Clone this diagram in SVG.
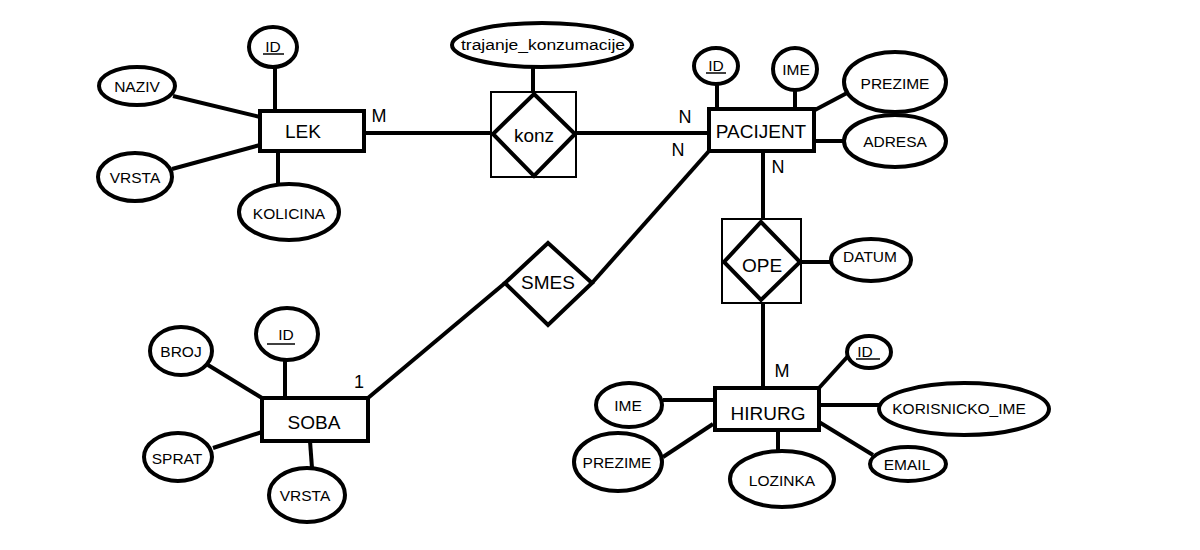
<svg xmlns="http://www.w3.org/2000/svg" width="1200" height="550" viewBox="0 0 1200 550">
  <style>
    .ent { fill: #fff; stroke: #000; stroke-width: 4; }
    .attr { fill: #fff; stroke: #000; stroke-width: 4; }
    .rel { fill: #fff; stroke: #000; stroke-width: 4; stroke-linejoin: miter; }
    .box { fill: #fff; stroke: #000; stroke-width: 2; }
    .conn line { stroke: #000; stroke-width: 4; }
    .ul { stroke: #000; stroke-width: 1.5; }
    text { font-family: "Liberation Sans", Arial, sans-serif; fill: #000; text-anchor: middle; dominant-baseline: central; }
    .t-ent { font-size: 19px; }
    .t-attr { font-size: 15.5px; }
    .t-card { font-size: 18px; }
  </style>
  <rect width="1200" height="550" fill="#fff"/>

  <!-- connectors -->
  <g id="connectors" class="conn">
    <!-- LEK attributes -->
    <line x1="275" y1="67" x2="275" y2="111"/>
    <line x1="173" y1="96" x2="260" y2="117"/>
    <line x1="172" y1="169" x2="260" y2="145"/>
    <line x1="278" y1="151" x2="278" y2="185"/>
    <!-- LEK - konz - PACIJENT -->
    <line x1="364" y1="133" x2="493" y2="133"/>
    <line x1="575" y1="133" x2="709" y2="133"/>
    <line x1="533" y1="67" x2="533" y2="94"/>
    <!-- PACIJENT attributes -->
    <line x1="717" y1="83" x2="717" y2="109"/>
    <line x1="795" y1="90" x2="795" y2="109"/>
    <line x1="813" y1="111" x2="847" y2="93"/>
    <line x1="814" y1="141" x2="844" y2="141"/>
    <!-- PACIJENT - SMES - SOBA -->
    <line x1="709" y1="151" x2="592" y2="283"/>
    <line x1="505" y1="283" x2="368" y2="398"/>
    <!-- SOBA attributes -->
    <line x1="285" y1="360" x2="285" y2="398"/>
    <line x1="208" y1="365" x2="262" y2="398"/>
    <line x1="213" y1="448" x2="262" y2="432"/>
    <line x1="310" y1="441" x2="312" y2="468"/>
    <!-- PACIJENT - OPE - HIRURG -->
    <line x1="763" y1="151" x2="763" y2="222"/>
    <line x1="763" y1="300" x2="763" y2="388"/>
    <line x1="800" y1="262" x2="831" y2="262"/>
    <!-- HIRURG attributes -->
    <line x1="819" y1="388" x2="849" y2="355"/>
    <line x1="663" y1="400" x2="713" y2="400"/>
    <line x1="819" y1="405" x2="879" y2="405"/>
    <line x1="663" y1="457" x2="713" y2="424"/>
    <line x1="778" y1="430" x2="778" y2="451"/>
    <line x1="819" y1="422" x2="873" y2="455"/>
  </g>

  <!-- LEK -->
  <g id="lek">
    <rect class="ent" x="260" y="111" width="104" height="40"/>
    <text class="t-ent" x="303" y="131">LEK</text>
  </g>
  <g id="lek-id">
    <ellipse class="attr" cx="273" cy="47" rx="24" ry="20"/>
    <text class="t-attr" x="273" y="46">ID</text>
    <line class="ul" x1="263" y1="54" x2="284" y2="54"/>
  </g>
  <g id="lek-naziv">
    <ellipse class="attr" cx="137" cy="86" rx="38" ry="19"/>
    <text class="t-attr" x="137" y="86">NAZIV</text>
  </g>
  <g id="lek-vrsta">
    <ellipse class="attr" cx="135" cy="177" rx="37" ry="24"/>
    <text class="t-attr" x="135" y="177">VRSTA</text>
  </g>
  <g id="lek-kolicina">
    <ellipse class="attr" cx="289" cy="212" rx="50" ry="28"/>
    <text class="t-attr" x="289" y="213">KOLICINA</text>
  </g>

  <!-- konz -->
  <g id="konz">
    <rect class="box" x="491" y="92" width="85" height="85"/>
    <polygon class="rel" points="534,94 575,134 534,176 493,134"/>
    <text class="t-ent" x="534" y="135">konz</text>
  </g>
  <g id="konz-trajanje">
    <ellipse class="attr" cx="542" cy="45" rx="90" ry="22"/>
    <text class="t-attr" x="543" y="44" textLength="164" lengthAdjust="spacingAndGlyphs">trajanje_konzumacije</text>
  </g>

  <!-- PACIJENT -->
  <g id="pacijent">
    <rect class="ent" x="709" y="109" width="105" height="42"/>
    <text class="t-ent" x="761" y="131">PACIJENT</text>
  </g>
  <g id="pacijent-id">
    <ellipse class="attr" cx="716" cy="66" rx="22" ry="18"/>
    <text class="t-attr" x="716" y="65">ID</text>
    <line class="ul" x1="706" y1="73" x2="726" y2="73"/>
  </g>
  <g id="pacijent-ime">
    <ellipse class="attr" cx="795" cy="69" rx="22" ry="21"/>
    <text class="t-attr" x="796" y="69">IME</text>
  </g>
  <g id="pacijent-prezime">
    <ellipse class="attr" cx="895" cy="82" rx="51" ry="30"/>
    <text class="t-attr" x="895" y="83">PREZIME</text>
  </g>
  <g id="pacijent-adresa">
    <ellipse class="attr" cx="895" cy="141" rx="51" ry="26"/>
    <text class="t-attr" x="895" y="141">ADRESA</text>
  </g>

  <!-- SMES -->
  <g id="smes">
    <polygon class="rel" points="548,243 592,283 548,325 505,283"/>
    <text class="t-ent" x="548" y="282">SMES</text>
  </g>

  <!-- SOBA -->
  <g id="soba">
    <rect class="ent" x="262" y="398" width="106" height="43"/>
    <text class="t-ent" x="314" y="422">SOBA</text>
  </g>
  <g id="soba-id">
    <ellipse class="attr" cx="287" cy="334" rx="31" ry="26"/>
    <text class="t-attr" x="286" y="334">ID</text>
    <line class="ul" x1="267" y1="344" x2="295" y2="344"/>
  </g>
  <g id="soba-broj">
    <ellipse class="attr" cx="181" cy="351" rx="31" ry="24"/>
    <text class="t-attr" x="181" y="351">BROJ</text>
  </g>
  <g id="soba-sprat">
    <ellipse class="attr" cx="178" cy="457" rx="34" ry="24"/>
    <text class="t-attr" x="177" y="458">SPRAT</text>
  </g>
  <g id="soba-vrsta">
    <ellipse class="attr" cx="307" cy="495" rx="38" ry="27"/>
    <text class="t-attr" x="305" y="495">VRSTA</text>
  </g>

  <!-- OPE -->
  <g id="ope">
    <rect class="box" x="722" y="219" width="79" height="84"/>
    <polygon class="rel" points="761,222 800,262 761,300 724,262"/>
    <text class="t-ent" x="762" y="265">OPE</text>
  </g>
  <g id="ope-datum">
    <ellipse class="attr" cx="871" cy="260" rx="40" ry="21"/>
    <text class="t-attr" x="870" y="256">DATUM</text>
  </g>

  <!-- HIRURG -->
  <g id="hirurg">
    <rect class="ent" x="715" y="388" width="104" height="42"/>
    <text class="t-ent" x="768" y="413">HIRURG</text>
  </g>
  <g id="hirurg-id">
    <ellipse class="attr" cx="869" cy="352" rx="22" ry="16"/>
    <text class="t-attr" x="865" y="351">ID</text>
    <line class="ul" x1="856" y1="359" x2="880" y2="359"/>
  </g>
  <g id="hirurg-ime">
    <ellipse class="attr" cx="629" cy="405" rx="33" ry="22"/>
    <text class="t-attr" x="628" y="405">IME</text>
  </g>
  <g id="hirurg-korisnicko-ime">
    <ellipse class="attr" cx="964" cy="409" rx="85" ry="26"/>
    <text class="t-attr" x="959" y="408">KORISNICKO_IME</text>
  </g>
  <g id="hirurg-prezime">
    <ellipse class="attr" cx="618" cy="462" rx="44" ry="29"/>
    <text class="t-attr" x="617" y="462">PREZIME</text>
  </g>
  <g id="hirurg-lozinka">
    <ellipse class="attr" cx="782" cy="479" rx="52" ry="28"/>
    <text class="t-attr" x="782" y="480">LOZINKA</text>
  </g>
  <g id="hirurg-email">
    <ellipse class="attr" cx="908" cy="464" rx="38" ry="17"/>
    <text class="t-attr" x="907" y="464">EMAIL</text>
  </g>

  <!-- cardinalities -->
  <g id="cardinalities">
    <text class="t-card" x="379" y="116">M</text>
    <text class="t-card" x="685" y="117">N</text>
    <text class="t-card" x="678" y="150">N</text>
    <text class="t-card" x="778" y="167">N</text>
    <text class="t-card" x="359" y="382">1</text>
    <text class="t-card" x="782" y="371">M</text>
  </g>
</svg>
